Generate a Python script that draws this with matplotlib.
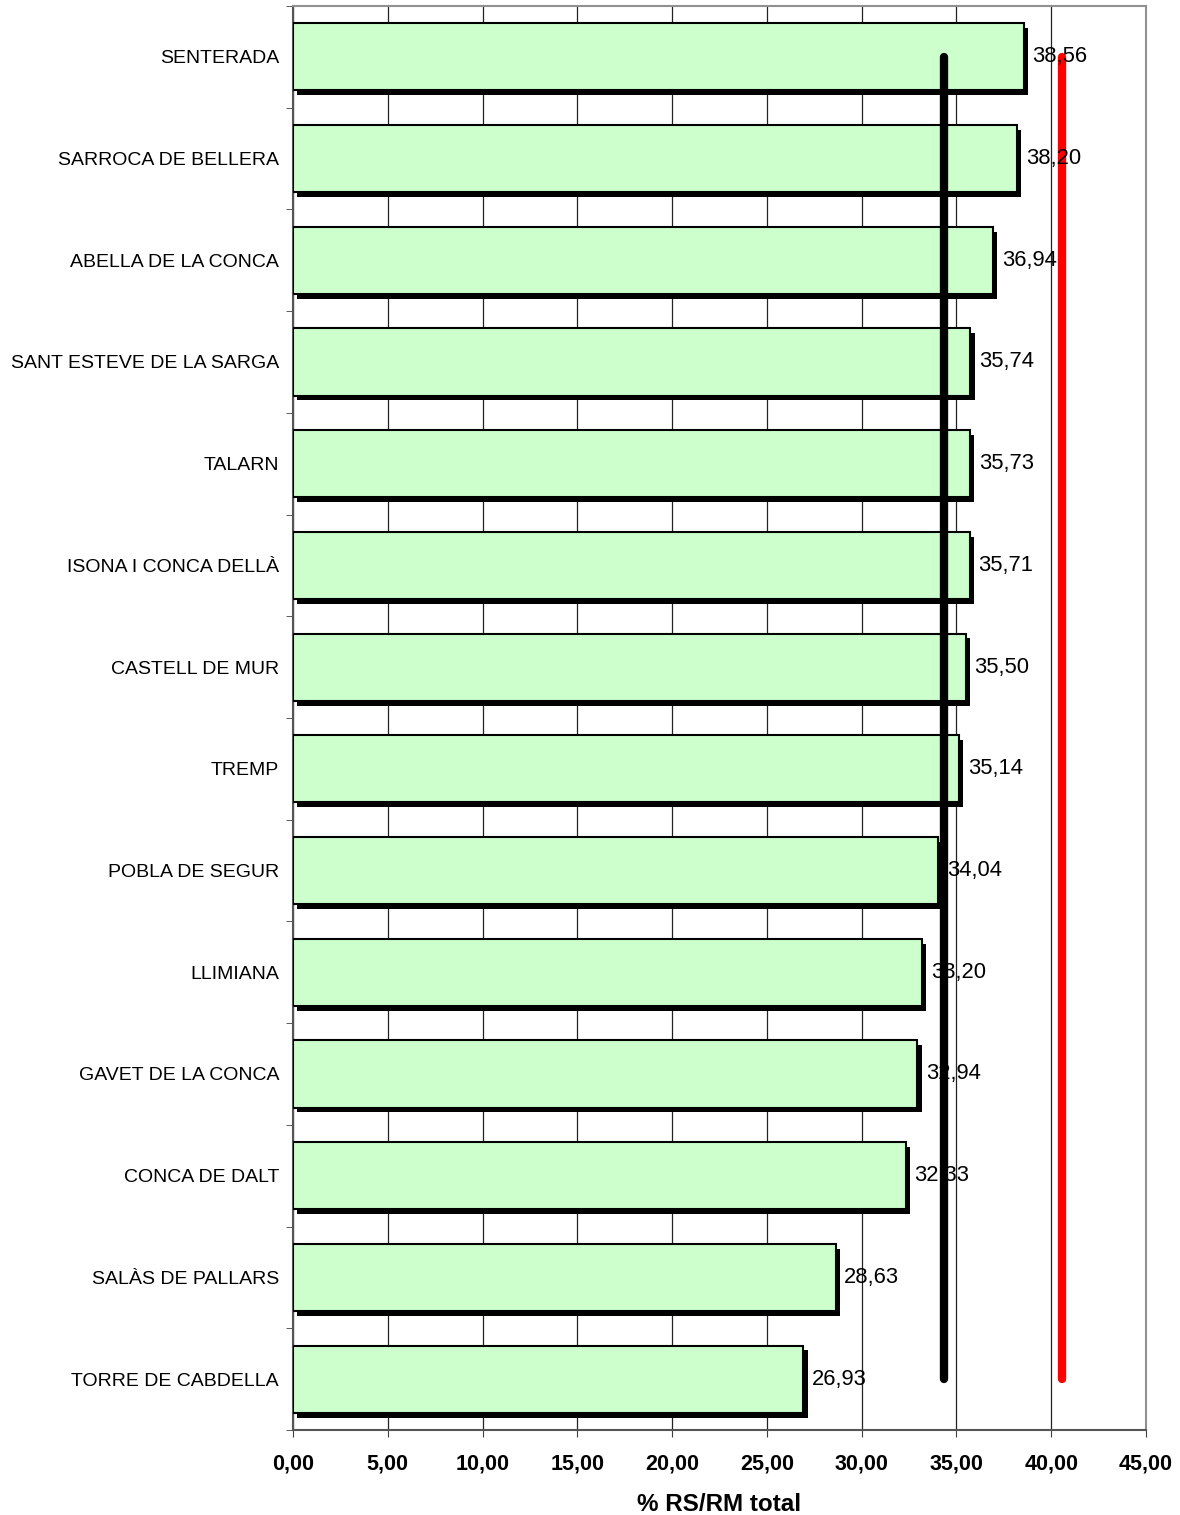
import matplotlib
matplotlib.use("Agg")
import matplotlib.pyplot as plt
import matplotlib.patheffects as pe
import numpy as np

plt.rcParams['font.family'] = ['Liberation Sans', 'DejaVu Sans']

municipis = ["SENTERADA", "SARROCA DE BELLERA", "ABELLA DE LA CONCA",
             "SANT ESTEVE DE LA SARGA", "TALARN", "ISONA I CONCA DELLÀ",
             "CASTELL DE MUR", "TREMP", "POBLA DE SEGUR", "LLIMIANA",
             "GAVET DE LA CONCA", "CONCA DE DALT", "SALÀS DE PALLARS",
             "TORRE DE CABDELLA"]
valors = [38.56, 38.20, 36.94, 35.74, 35.73, 35.71, 35.50, 35.14,
          34.04, 33.20, 32.94, 32.33, 28.63, 26.93]
mitjana_comarca = 34.36
mitjana_catalunya = 40.59
xticks = [0, 5, 10, 15, 20, 25, 30, 35, 40, 45]

fig = plt.figure(figsize=(11.8, 15.15), dpi=100)
ax = fig.add_axes([293/1180, 1 - 1430/1515, (1146-293)/1180, (1430-6)/1515])

y = np.arange(len(municipis))
shadow = [pe.SimplePatchShadow(offset=(3, -3.5), shadow_rgbFace='black', alpha=1.0), pe.Normal()]
bars = ax.barh(y, valors, height=0.66, color='#CCFFCC', edgecolor='black',
               linewidth=1.5, zorder=3)
for b in bars:
    b.set_path_effects(shadow)

ax.plot([mitjana_comarca, mitjana_comarca], [y[0], y[-1]], color='black',
        lw=6, solid_capstyle='round', zorder=4)
ax.plot([mitjana_catalunya, mitjana_catalunya], [y[0], y[-1]], color='red',
        lw=6, solid_capstyle='round', zorder=4)

for yi, v in zip(y, valors):
    ax.text(v + 0.45, yi, f"{v:.2f}".replace('.', ','), va='center', ha='left',
            fontsize=15.8, zorder=5)

ax.set_xlim(0, 45)
ax.set_ylim(len(municipis) - 0.5, -0.5)
ax.set_xticks(xticks)
ax.set_xticklabels([f"{t:.2f}".replace('.', ',') for t in xticks],
                   fontsize=15.5, fontweight='bold')
ax.set_yticks(y)
ax.set_yticklabels(municipis, fontsize=14)
ax.tick_params(axis='y', length=0, pad=10)
ax.set_yticks(np.arange(-0.5, len(municipis), 1), minor=True)
ax.tick_params(axis='y', which='minor', length=5, direction='out', color='#404040')
ax.tick_params(axis='x', length=5, direction='out', color='#404040', pad=12)
ax.xaxis.grid(True, color='#222222', lw=0.9, zorder=0)
ax.set_axisbelow(True)
for s in ['left', 'bottom']:
    ax.spines[s].set_color('#555555')
    ax.spines[s].set_linewidth(1.5)
for s in ['top', 'right']:
    ax.spines[s].set_color('#909090')
    ax.spines[s].set_linewidth(1.5)
ax.set_xlabel("% RS/RM total", fontsize=17.5, fontweight='bold', labelpad=13)

fig.savefig("out.png", dpi=100)
